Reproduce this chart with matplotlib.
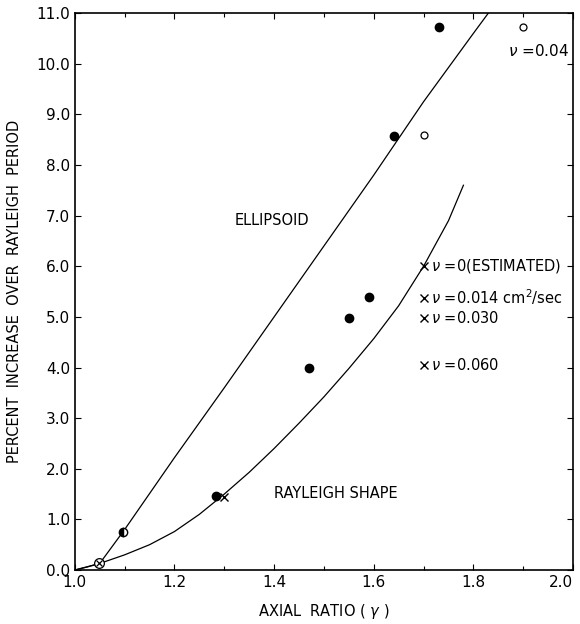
import matplotlib
matplotlib.use("Agg")
import matplotlib.pyplot as plt
from matplotlib.ticker import MultipleLocator

# ---- data ----
ellipsoid_x = [1.00, 1.05, 1.10, 1.20, 1.30, 1.40, 1.50, 1.60, 1.70, 1.80, 1.83]
ellipsoid_y = [0.00, 0.13, 0.80, 2.22, 3.60, 5.00, 6.40, 7.80, 9.25, 10.60, 11.00]

rayleigh_x = [1.00, 1.025, 1.05, 1.10, 1.15, 1.20, 1.25, 1.30, 1.35, 1.40, 1.45, 1.50,
              1.55, 1.60, 1.65, 1.70, 1.75, 1.78]
rayleigh_y = [0.00, 0.06, 0.13, 0.30, 0.50, 0.76, 1.10, 1.50, 1.93, 2.40, 2.90, 3.42,
              3.98, 4.57, 5.22, 6.00, 6.90, 7.60]

filled_x = [1.283, 1.47, 1.55, 1.59, 1.64, 1.73]
filled_y = [1.46, 4.00, 4.98, 5.40, 8.58, 10.73]

half_x = [1.097]
half_y = [0.76]

open_x = [1.70, 1.90]
open_y = [8.60, 10.73]

circx_x = [1.049]
circx_y = [0.13]

cross_x = [1.30, 1.70, 1.70, 1.70, 1.70]
cross_y = [1.45, 6.00, 5.38, 4.98, 4.05]

cross_labels = [r"$\nu$ =0(ESTIMATED)", r"$\nu$ =0.014 cm$^{2}$/sec",
                r"$\nu$ =0.030", r"$\nu$ =0.060"]
x_ticks = [1.0, 1.2, 1.4, 1.6, 1.8, 2.0]
y_ticks = [0.0, 1.0, 2.0, 3.0, 4.0, 5.0, 6.0, 7.0, 8.0, 9.0, 10.0, 11.0]

plt.rcParams['font.family'] = ['DejaVu Sans']

fig = plt.figure(figsize=(5.8, 6.24), dpi=100)
ax = fig.add_axes([0.129, 0.0865, 0.859, 0.8925])

ax.plot(ellipsoid_x, ellipsoid_y, color='black', lw=0.9)
ax.plot(rayleigh_x, rayleigh_y, color='black', lw=0.9)

ax.plot(filled_x, filled_y, 'o', color='black', ms=6)
ax.plot(half_x, half_y, 'o', color='black', ms=6, fillstyle='left',
        markerfacecoloralt='white', mew=1)
ax.plot(open_x, open_y, 'o', mfc='white', mec='black', ms=5, mew=0.9)
ax.plot(circx_x, circx_y, 'o', mfc='white', mec='black', ms=7, mew=0.9)
ax.plot(circx_x, circx_y, 'x', color='black', ms=5, mew=0.9)
ax.plot(cross_x, cross_y, 'x', color='black', ms=6, mew=1)

for yy, lab in zip(cross_y[1:], cross_labels):
    ax.text(1.715, yy, lab, fontsize=10.5, va='center', ha='left')

ax.text(1.87, 10.25, r"$\nu$ =0.04", fontsize=11, va='center', ha='left')
ax.text(1.32, 6.9, "ELLIPSOID", fontsize=10.5, va='center', ha='left')
ax.text(1.40, 1.52, "RAYLEIGH SHAPE", fontsize=10.5, va='center', ha='left')

ax.set_xlim(1.0, 2.0)
ax.set_ylim(0.0, 11.0)
ax.set_xticks(x_ticks)
ax.set_xticklabels([f"{v:.1f}" for v in x_ticks])
ax.get_xticklabels()[-1].set_ha('right')
ax.set_yticks(y_ticks)
ax.set_yticklabels([f"{v:.1f}" for v in y_ticks])
ax.xaxis.set_minor_locator(MultipleLocator(0.1))
ax.tick_params(axis='both', which='both', direction='in', top=True, right=True,
               labelsize=11, width=0.8)
ax.tick_params(which='major', length=4)
ax.tick_params(which='minor', length=3)
for s in ax.spines.values():
    s.set_linewidth(1.2)

ax.set_xlabel(r"AXIAL  RATIO ( $\gamma$ )", fontsize=10.5, labelpad=9)
ax.set_ylabel("PERCENT  INCREASE  OVER  RAYLEIGH  PERIOD", fontsize=10.5, labelpad=10)

fig.savefig("out.png", dpi=100)
